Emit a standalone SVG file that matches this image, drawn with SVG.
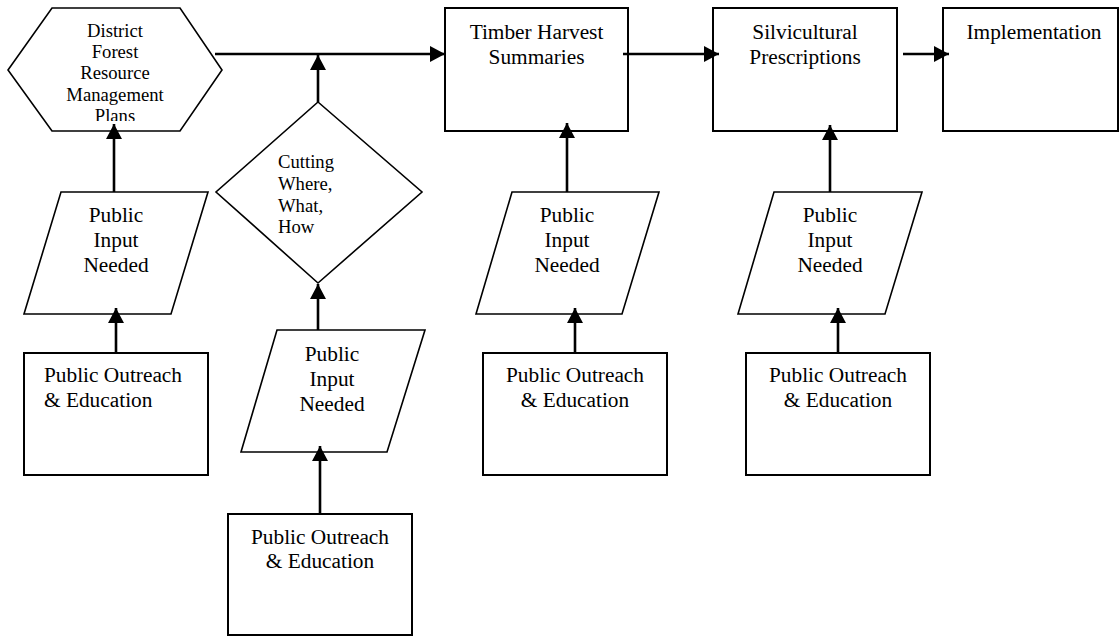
<svg xmlns="http://www.w3.org/2000/svg" width="1120" height="639" viewBox="0 0 1120 639">
<style>
.box{fill:#fff;stroke:#000;stroke-width:2}
.shp{fill:#fff;stroke:#000;stroke-width:1.6}
.t{font-family:"Liberation Serif","Times New Roman",serif;font-size:21.33px;fill:#000}
.s{font-family:"Liberation Serif","Times New Roman",serif;font-size:18.67px;fill:#000}
.c{text-anchor:middle}
.arr{fill:none;stroke:#000;stroke-width:2.6;marker-end:url(#ah)}
</style>
<defs>
<marker id="ah" markerUnits="userSpaceOnUse" markerWidth="16" markerHeight="16" refX="15" refY="8" orient="auto">
<path d="M0,0 L15,8 L0,16 z" fill="#000"/>
</marker>
<clipPath id="hexclip"><rect x="8" y="8" width="214" height="113"/></clipPath>
</defs>
<rect width="1120" height="639" fill="#fff"/>

<g id="hex">
<polygon class="shp" points="8,70 52,8 180,8 222,70 180,131 52,131"/>
<g clip-path="url(#hexclip)">
<text class="s c" x="115" y="37">District</text>
<text class="s c" x="115" y="58">Forest</text>
<text class="s c" x="115" y="79">Resource</text>
<text class="s c" x="115" y="101">Management</text>
<text class="s c" x="115" y="122">Plans</text>
</g>
</g>

<g id="timber">
<rect class="box" x="445" y="8" width="183" height="123"/>
<text class="t c" x="536.5" y="39">Timber Harvest</text>
<text class="t c" x="536.5" y="64">Summaries</text>
</g>

<g id="silv">
<rect class="box" x="713" y="8" width="184" height="123"/>
<text class="t c" x="805" y="39">Silvicultural</text>
<text class="t c" x="805" y="64">Prescriptions</text>
</g>

<g id="impl">
<rect class="box" x="943" y="8" width="175" height="123"/>
<text class="t c" x="1034" y="39">Implementation</text>
</g>

<g id="diamond">
<polygon class="shp" points="318,102 422,192 318,283 216,192"/>
<text class="s" x="278" y="168">Cutting</text>
<text class="s" x="278" y="190">Where,</text>
<text class="s" x="278" y="212">What,</text>
<text class="s" x="278" y="233">How</text>
</g>

<g id="input1">
<polygon class="shp" points="61,192 208,192 171,314 24,314"/>
<text class="t c" x="116" y="222">Public</text>
<text class="t c" x="116" y="247">Input</text>
<text class="t c" x="116" y="272">Needed</text>
</g>

<g id="input2">
<polygon class="shp" points="277,330 425,330 387,452 241,452"/>
<text class="t c" x="332" y="361">Public</text>
<text class="t c" x="332" y="386">Input</text>
<text class="t c" x="332" y="411">Needed</text>
</g>

<g id="input3">
<polygon class="shp" points="512,192 659,192 622,314 476,314"/>
<text class="t c" x="567" y="222">Public</text>
<text class="t c" x="567" y="247">Input</text>
<text class="t c" x="567" y="272">Needed</text>
</g>

<g id="input4">
<polygon class="shp" points="774,192 922,192 885,314 738,314"/>
<text class="t c" x="830" y="222">Public</text>
<text class="t c" x="830" y="247">Input</text>
<text class="t c" x="830" y="272">Needed</text>
</g>

<g id="outreach1">
<rect class="box" x="24" y="353" width="184" height="122"/>
<text class="t" x="44" y="382">Public Outreach</text>
<text class="t" x="44" y="407">&amp; Education</text>
</g>

<g id="outreach2">
<rect class="box" x="228" y="514" width="184" height="121"/>
<text class="t c" x="320" y="544">Public Outreach</text>
<text class="t c" x="320" y="568">&amp; Education</text>
</g>

<g id="outreach3">
<rect class="box" x="483" y="353" width="184" height="122"/>
<text class="t c" x="575" y="382">Public Outreach</text>
<text class="t c" x="575" y="407">&amp; Education</text>
</g>

<g id="outreach4">
<rect class="box" x="746" y="353" width="184" height="122"/>
<text class="t c" x="838" y="382">Public Outreach</text>
<text class="t c" x="838" y="407">&amp; Education</text>
</g>

<g id="connectors">
<line class="arr" x1="215" y1="54" x2="445" y2="54"/>
<line class="arr" x1="318" y1="102" x2="318" y2="55"/>
<line class="arr" x1="623" y1="54" x2="719" y2="54"/>
<line class="arr" x1="903" y1="54" x2="949" y2="54"/>
<line class="arr" x1="114" y1="192" x2="114" y2="124"/>
<line class="arr" x1="116" y1="352" x2="116" y2="308"/>
<line class="arr" x1="318" y1="330" x2="318" y2="284"/>
<line class="arr" x1="320" y1="514" x2="320" y2="446"/>
<line class="arr" x1="567" y1="192" x2="567" y2="123"/>
<line class="arr" x1="575" y1="353" x2="575" y2="308"/>
<line class="arr" x1="830" y1="192" x2="830" y2="125"/>
<line class="arr" x1="838" y1="353" x2="838" y2="308"/>
</g>
</svg>
